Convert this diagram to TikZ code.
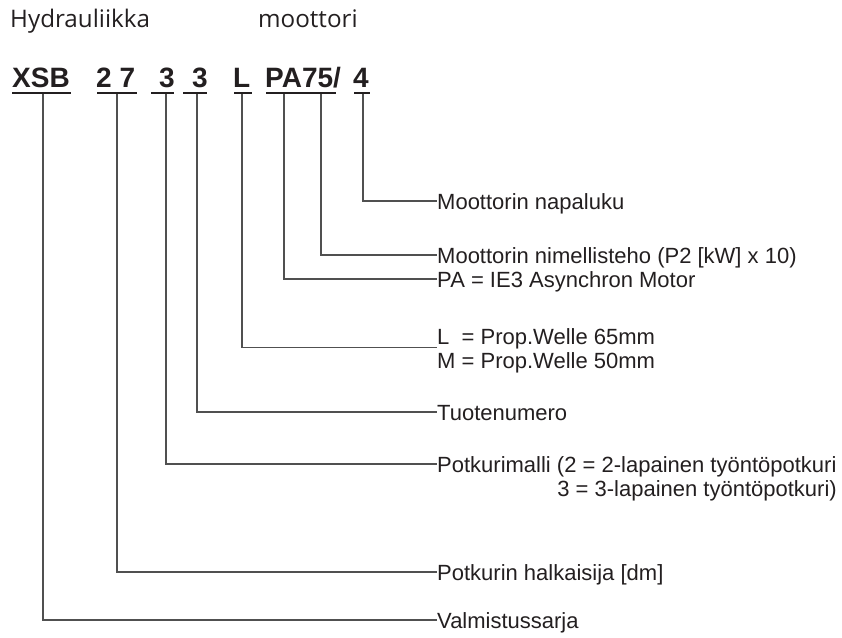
\documentclass[tikz,border=0pt]{standalone}
\usepackage{fontspec}
\setmainfont{Liberation Sans}
\newfontfamily\headfont{Open Sans}
\usetikzlibrary{positioning}
\definecolor{InkColor}{RGB}{35,31,32}
\definecolor{LeaderColor}{RGB}{80,80,80}
\tikzstyle{leader} = [line width=1.1pt, LeaderColor]
\tikzset{
  heading/.style={anchor=base west, inner sep=0pt, text=InkColor, font=\headfont\fontsize{24.2}{28}\selectfont},
  codepart/.style={anchor=base west, inner sep=0pt, text=InkColor, font=\bfseries\fontsize{28}{32}\selectfont},
  codeline/.style={rectangle, fill=InkColor, inner sep=0pt, minimum height=2.3pt},
  desc/.style={anchor=west, inner sep=0pt, text height=17pt, text depth=0pt, text=InkColor, font=\fontsize{22}{26}\selectfont}
}

\begin{document}
\begin{tikzpicture}[x=1pt, y=-1pt]
  \useasboundingbox (0,0) rectangle (842,637);

  % Heading
  \node[heading] (hydr) at (10,27) {Hydrauliikka};
  \node[heading] (mot) at (258,27) {moottori};

  % Type code
  \node[codepart] (xsb) at (12,87) {XSB};
  \node[codepart] (size) at (96,87) {2 7};
  \node[codepart] (model) at (159,87) {3};
  \node[codepart] (prodno) at (192,87) {3};
  \node[codepart] (shaft) at (233,87) {L};
  \node[codepart] (power) at (265,87) {PA75/};
  \node[codepart] (poles) at (353,87) {4};

  % Underlines
  \node[codeline, minimum width=59pt] (u-xsb) at (41.5,93) {};
  \node[codeline, minimum width=40pt] (u-size) at (117,93) {};
  \node[codeline, minimum width=23pt] (u-model) at (162.5,93) {};
  \node[codeline, minimum width=24pt] (u-prodno) at (195,93) {};
  \node[codeline, minimum width=18pt] (u-shaft) at (243,93) {};
  \node[codeline, minimum width=70pt] (u-power) at (301,93) {};
  \node[codeline, minimum width=16pt] (u-poles) at (362,93) {};

  % Leader start points
  \coordinate (p-xsb) at (43,94);
  \coordinate (p-size) at (117,94);
  \coordinate (p-model) at (166,94);
  \coordinate (p-prodno) at (197,94);
  \coordinate (p-shaft) at (242,94);
  \coordinate (p-pa) at (284,94);
  \coordinate (p-power) at (321,94);
  \coordinate (p-poles) at (363,94);

  % Descriptions
  \node[desc] (d-poles) at (437,201) {Moottorin napaluku};
  \node[desc] (d-power) at (437,255) {Moottorin nimellisteho (P2 [kW] x 10)};
  \node[desc] (d-pa) at (437,279) {PA = IE3 Asynchron Motor};
  \node[desc, text depth=2.5pt] (d-shaft) at (437,337.25) {\rlap{L}\phantom{M} = Prop.Welle 65mm};
  \node[desc, below=4pt of d-shaft.south west, anchor=north west] (d-shaft2) {M = Prop.Welle 50mm};
  \node[desc] (d-prodno) at (437,412) {Tuotenumero};
  \node[desc] (d-model) at (437,464) {Potkurimalli (2 = 2-lapainen työntöpotkuri};
  \node[desc, below=6.5pt of d-model.south west, anchor=north west, xshift=-7pt] (d-model2) {\phantom{Potkurimalli (}3 = 3-lapainen työntöpotkuri)};
  \node[desc] (d-size) at (437,572) {Potkurin halkaisija [dm]};
  \node[desc] (d-series) at (437,620) {Valmistussarja};

  % Leaders
  \draw[leader] (p-poles) |- (d-poles.west);
  \draw[leader] (p-power) |- (d-power.west);
  \draw[leader] (p-pa) |- (d-pa.west);
  \draw[leader] (p-shaft) |- (d-shaft.south west);
  \draw[leader] (p-prodno) |- (d-prodno.west);
  \draw[leader] (p-model) |- (d-model.west);
  \draw[leader] (p-size) |- (d-size.west);
  \draw[leader] (p-xsb) |- (d-series.west);
\end{tikzpicture}
\end{document}
